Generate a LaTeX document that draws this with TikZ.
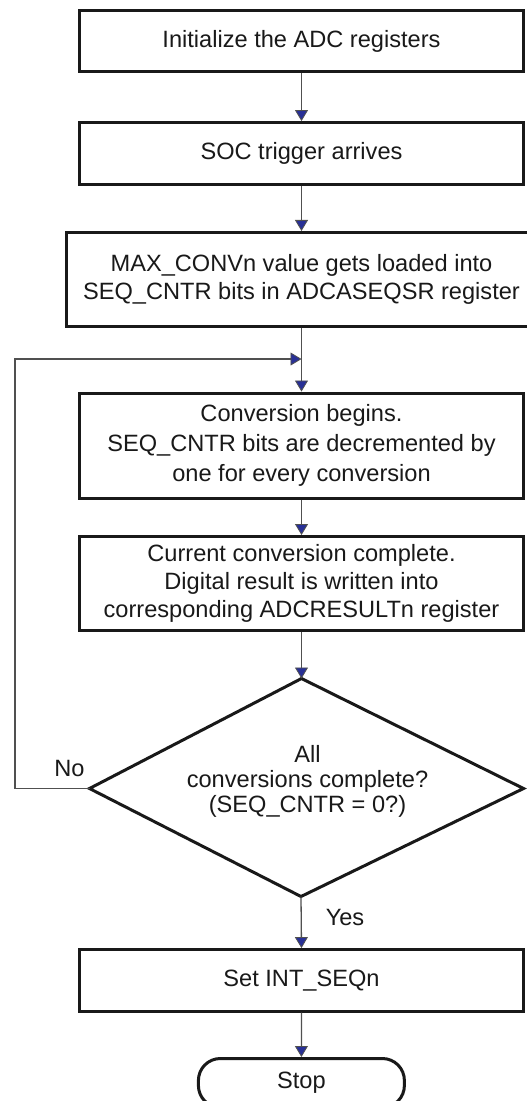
\documentclass[tikz,border=0pt]{standalone}
\usepackage{fontspec}
\setmainfont{Liberation Sans}
\usetikzlibrary{arrows.meta,positioning}
\definecolor{arrowblue}{RGB}{40,48,150}
\definecolor{conn}{RGB}{80,80,80}
\definecolor{ink}{RGB}{25,25,25}
\tikzset{
  box/.style={draw=ink, line width=3pt, rectangle, minimum width=444pt, align=center, inner sep=0pt, text=ink,
     font=\fontsize{23.6}{28}\selectfont},
  termbox/.style={draw=ink, line width=3pt, rectangle, rounded corners=22pt, minimum width=206pt, minimum height=49pt,
     inner sep=0pt, text=ink, font=\fontsize{23.6}{28}\selectfont},
  flow/.style={draw=conn, line width=1.3pt, -{Triangle[length=11pt,width=13pt,fill=arrowblue,line width=0.8pt]}},
  plainline/.style={draw=conn, line width=1.3pt},
  lbl/.style={text=ink, inner sep=0pt, font=\fontsize{23.6}{28}\selectfont}
}
\begin{document}
\begin{tikzpicture}[x=1pt,y=-1pt]
\clip (0,0) rectangle (527,1101);
\fill[white] (0,0) rectangle (527,1101);

\node[box, minimum height=61pt] (b1) at (301.5,41) {Initialize the ADC registers};
\node[box, minimum height=61.5pt] (b2) at (301.5,153.3) {SOC trigger arrives};
\node[box, minimum width=471pt, minimum height=94.5pt] (b3) at (301.5,279.7)
  {MAX\_CONVn value gets loaded into\\SEQ\_CNTR bits in ADCASEQSR register};
\node[box, minimum height=105.5pt, font=\fontsize{23.6}{30}\selectfont] (b4) at (301.5,445.8)
  {Conversion begins.\\SEQ\_CNTR bits are decremented by\\one for every conversion};
\node[box, minimum height=94pt] (b5) at (301.5,583.5)
  {Current conversion complete.\\Digital result is written into\\corresponding ADCRESULTn register};

% decision diamond
\coordinate (dtop) at (301.5,678.5);
\coordinate (dright) at (523.5,788.5);
\coordinate (dbot) at (301,896.5);
\coordinate (dleft) at (89.5,788.5);
\draw[draw=ink, line width=3pt, line join=miter] (dtop) -- (dright) -- (dbot) -- (dleft) -- cycle;
\node[lbl, align=center, font=\fontsize{23.6}{25}\selectfont] (dtext) at (307.5,781.5)
  {All\\conversions complete?\\(SEQ\_CNTR = 0?)};

\node[box, minimum height=61.5pt] (b6) at (301.5,980.3) {Set INT\_SEQn};
\node[termbox] (stop) at (301.4,1083) {Stop};

\node[lbl, anchor=base] (no) at (69.5,776) {No};
\node[lbl, anchor=base] (yes) at (345,925) {Yes};

\coordinate (join) at (301.5,359);
\coordinate (lcorner) at (15,788.5);

% connectors
\draw[flow] (b1) -- (b2);
\draw[flow] (b2) -- (b3);
\draw[plainline] (b3.south) -- (join);
\draw[flow] (join) -- (b4.north);
\draw[flow] (dleft) -- (lcorner) |- (join);
\draw[flow] (b4) -- (b5);
\draw[flow] (b5.south) -- (dtop);
\draw[flow] (dbot) -- (b6.north);
\draw[flow] (b6) -- (stop);
\end{tikzpicture}
\end{document}
